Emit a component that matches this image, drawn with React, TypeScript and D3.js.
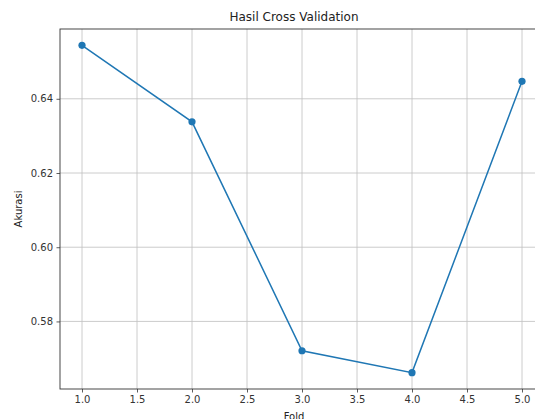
import React, { useEffect, useRef } from 'react';
import * as d3 from 'd3';

// fold number -> accuracy
const folds = [1, 2, 3, 4, 5];
const akurasi = [0.6544, 0.6338, 0.5721, 0.5662, 0.6447];
const xTicks = [1.0, 1.5, 2.0, 2.5, 3.0, 3.5, 4.0, 4.5, 5.0];
const yTicks = [0.58, 0.6, 0.62, 0.64];

const W = 535;
const H = 419;

const App: React.FC = () => {
  const svgRef = useRef<SVGSVGElement>(null);

  useEffect(() => {
    if (!svgRef.current) return;
    const svg = d3.select(svgRef.current);
    svg.selectAll('*').remove();

    const left = 60;
    const right = 544;
    const top = 29;
    const bottom = 389;

    // matplotlib-like 5% margins
    const xPad = (5 - 1) * 0.05;
    const yMin = d3.min(akurasi)!;
    const yMax = d3.max(akurasi)!;
    const yPad = (yMax - yMin) * 0.05;

    const x = d3.scaleLinear().domain([1 - xPad, 5 + xPad]).range([left, right]);
    const y = d3.scaleLinear().domain([yMin - yPad, yMax + yPad]).range([bottom, top]);

    const font = 'DejaVu Sans, sans-serif';

    // grid
    const grid = svg.append('g').attr('stroke', '#b0b0b0').attr('stroke-width', 0.8).attr('opacity', 0.8);
    xTicks.forEach(t => {
      grid.append('line').attr('x1', x(t)).attr('x2', x(t)).attr('y1', top).attr('y2', bottom);
    });
    yTicks.forEach(t => {
      grid.append('line').attr('x1', left).attr('x2', right).attr('y1', y(t)).attr('y2', y(t));
    });

    // axes
    const xAxis = d3.axisBottom(x).tickValues(xTicks).tickFormat(d3.format('.1f')).tickSize(3.5).tickPadding(3.5);
    const yAxis = d3.axisLeft(y).tickValues(yTicks).tickFormat(d3.format('.2f')).tickSize(3.5).tickPadding(3.5);

    const gx = svg.append('g').attr('transform', `translate(0,${bottom})`).call(xAxis);
    const gy = svg.append('g').attr('transform', `translate(${left},0)`).call(yAxis);
    [gx, gy].forEach(g => {
      g.select('.domain').remove();
      g.selectAll('line').attr('stroke', '#333').attr('stroke-width', 0.8);
      g.selectAll('text').attr('fill', '#333').style('font-family', font).style('font-size', '10px');
    });

    // spines
    const spine = svg.append('g').attr('stroke', '#333').attr('stroke-width', 0.9).attr('fill', 'none');
    spine.append('rect').attr('x', left).attr('y', top).attr('width', right - left).attr('height', bottom - top);

    // line + markers
    const pts = folds.map((f, i) => [f, akurasi[i]] as [number, number]);
    const line = d3.line<[number, number]>().x(d => x(d[0])).y(d => y(d[1]));
    svg.append('path').datum(pts).attr('d', line).attr('fill', 'none').attr('stroke', '#1f77b4').attr('stroke-width', 1.5);
    svg.append('g').selectAll('circle').data(pts).enter().append('circle')
      .attr('cx', d => x(d[0])).attr('cy', d => y(d[1])).attr('r', 3.6).attr('fill', '#1f77b4');

    // labels
    svg.append('text').attr('x', 294).attr('y', 21).attr('text-anchor', 'middle')
      .style('font-family', font).style('font-size', '12px').attr('fill', '#222').text('Hasil Cross Validation');
    svg.append('text').attr('x', 294).attr('y', 420).attr('text-anchor', 'middle')
      .style('font-family', font).style('font-size', '10px').attr('fill', '#222').text('Fold');
    svg.append('text').attr('transform', `translate(22,${(top + bottom) / 2}) rotate(-90)`).attr('text-anchor', 'middle')
      .style('font-family', font).style('font-size', '10px').attr('fill', '#222').text('Akurasi');
  }, []);

  return (
    <svg ref={svgRef} width={W} height={H}
      style={{ position: 'absolute', left: 0, top: 0, background: '#fff' }} />
  );
};

export default App;
